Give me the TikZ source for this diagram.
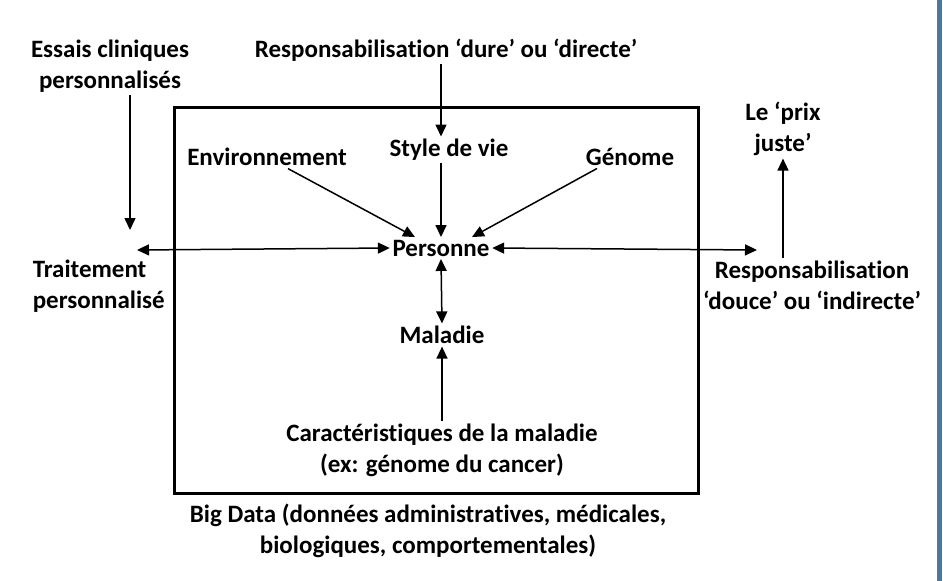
\documentclass[tikz,border=0pt]{standalone}
\usepackage{fontspec}
\setmainfont{Carlito}[Ligatures=NoCommon]
\usetikzlibrary{arrows.meta}
\definecolor{edgeblue}{RGB}{72,122,160}

\begin{document}
\begin{tikzpicture}[x=1pt,y=-1pt,>={Triangle[length=12pt,width=11pt]},
				line width=1.5pt,
				txt node/.style = {font=\fontsize{25}{31}\selectfont\bfseries, inner sep=2pt, align=center}]
				\useasboundingbox (0,0) rectangle (943,581);
				\fill[edgeblue] (937,0) rectangle (942,581);
				\draw[line width=3pt] (174,107) rectangle (698,493);
				
				\node[txt node] (ess) at (110,66) {Essais cliniques\\personnalisés};
				\node[txt node] (resd) at (446,50) {Responsabilisation ‘dure’ ou ‘directe’};
				\node[txt node] (style) at (449,150) {Style de vie};
				\node[txt node] (env) at (267,157) {Environnement};
				\node[txt node] (gen) at (630,157) {Génome};
				\node[txt node] (pers) at (441,248) {Personne};
				\node[txt node] (mal) at (442,335) {Maladie};
				\node[txt node] (car) at (442,450) {Caractéristiques de la maladie\\(ex: génome du cancer)};
				\node[txt node,align=left,anchor=west] (trait) at (30,286) {Traitement\\personnalisé};
				\node[txt node] (resi) at (812,285) {Responsabilisation\\‘douce’ ou ‘indirecte’};
				\node[txt node] (prix) at (783,129) {Le ‘prix\\juste’};
				\node[txt node] (big) at (428,531) {Big Data (données administratives, médicales,\\biologiques, comportementales)};
				\coordinate (tt) at (130,230);
				\coordinate (lt) at (137,250);
				\coordinate (rt) at (757,250);
				
				\draw[->] (ess.south -| tt) -- (tt);
				\draw[->] (resd.south -| pers) -- (style.north -| pers);
				\draw[->] (style.south -| pers) -- (pers.north);
				\draw[->] ([xshift=21pt]env.south) -- ([xshift=-26pt]pers.north);
				\draw[->] ([xshift=-33pt]gen.south) -- ([xshift=31pt]pers.north);
				\draw[<->] (lt) -- (pers.west);
				\draw[<->] (pers.east) -- (rt);
				\draw[<->] (pers.south) -- (mal.north);
				\draw[->] (car.north) -- (mal.south);
				\draw[->] (prix.south |- resi.north) -- (prix.south);
\end{tikzpicture}
\end{document}
